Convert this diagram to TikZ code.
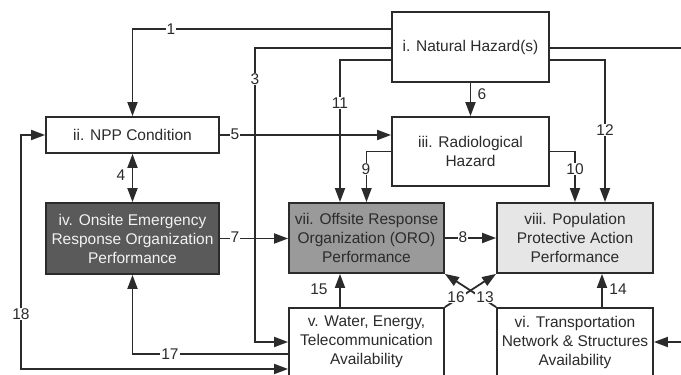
\documentclass[tikz,border=0pt]{standalone}
\usepackage{fontspec}
\setmainfont{Liberation Sans}
\usetikzlibrary{arrows.meta}
\definecolor{ink}{HTML}{2B2B2B}
\definecolor{darkfill}{HTML}{5A5A5A}
\definecolor{midfill}{HTML}{9A9A9A}
\definecolor{lightfill}{HTML}{E6E6E6}
\definecolor{paletext}{HTML}{F2F2F2}

\begin{document}
\begin{tikzpicture}[x=1pt,y=-1pt,
  every node/.style={font=\fontsize{15.5}{19}\selectfont, text=ink},
  box/.style={draw=ink, line width=1.8pt, align=center, inner sep=0pt, fill=white},
  tip/.tip={Triangle[length=14pt,width=10pt]},
  link/.style={draw=ink, line width=1.8pt, -tip},
  twoway/.style={draw=ink, line width=1.8pt, tip-tip},
  num/.style={fill=white, inner sep=1pt},
]
\useasboundingbox (0,0) rectangle (681,375);
\clip (0,0) rectangle (681,375);

% factor boxes
\node[box, minimum width=157pt, minimum height=70pt] (nat) at (470.5,47) {i. Natural Hazard(s)};
\node[box, minimum width=173pt, minimum height=36pt] (npp) at (132.5,135) {ii. NPP Condition};
\node[box, minimum width=157pt, minimum height=69pt] (rad) at (470.5,151.5) {iii. Radiological\\Hazard};
\node[box, minimum width=173pt, minimum height=71pt, fill=darkfill, text=paletext] (ons) at (132.5,238.5)
  {iv. Onsite Emergency\\Response Organization\\Performance};
\node[box, minimum width=155pt, minimum height=68pt] (wat) at (366.5,342)
  {v. Water, Energy,\\Telecommunication\\Availability};
\node[box, minimum width=156pt, minimum height=68pt] (trn) at (575,342)
  {vi. Transportation\\Network \& Structures\\Availability};
\node[box, minimum width=155pt, minimum height=70pt, fill=midfill] (oro) at (366.5,238)
  {vii. Offsite Response\\Organization (ORO)\\Performance};
\node[box, minimum width=156pt, minimum height=70pt, fill=lightfill] (pop) at (575,238)
  {viii. Population\\Protective Action\\Performance};

% routing helpers
\coordinate (k3) at (255,0);
\coordinate (k18) at (21,0);
\coordinate (far) at (720,0);
\coordinate (w17) at ([yshift=-12pt]wat.west);
\coordinate (w18) at ([yshift=-27pt]wat.west);

% connectors
\draw[link] ([yshift=18pt]nat.west) -| (npp.north);
\draw[link] ([yshift=-1pt]nat.west) -| (k3 |- wat.west) -- (wat.west);
\draw[link] ([yshift=-13pt]nat.west) -| ([xshift=-26.5pt]oro.north);
\draw[link] ([yshift=-1pt]nat.east) -| (far |- trn.east) -- (trn.east);
\draw[link] ([yshift=-13pt]nat.east) -| ([xshift=30pt]pop.north);
\draw[link] (nat.south) -- (rad.north);
\draw[link] (npp.east) -- (npp.east -| rad.west);
\draw[twoway] (npp.south) -- (ons.north);
\draw[link] (rad.west) -| (oro.north);
\draw[link] (rad.east) -| (pop.north);
\draw[link] (ons.east) -- (ons.east -| oro.west);
\draw[link] (oro.east) -- (pop.west);
\draw[link] ([xshift=-26.5pt]wat.north) -- ([xshift=-26.5pt]oro.south);
\draw[link] ([xshift=27pt]trn.north) -- ([xshift=27pt]pop.south);
\draw[link] (wat.north east) -- (pop.south west);
\draw[link] (trn.north west) -- (oro.south east);
\draw[link] (w17) -| (ons.south);
\draw[twoway] (npp.west) -- (npp.west -| k18) -- (k18 |- w18) -- (w18);

% connector numbers
\node[num] (l1) at (171,29) {1};
\node[num] (l3) at (255,79) {3};
\node[num] (l4) at (121,175) {4};
\node[num] (l5) at (235,134) {5};
\node[num, fill=none] (l6) at (482,94) {6};
\node[num] (l7) at (235,237) {7};
\node[num] (l8) at (463,237) {8};
\node[num] (l9) at (366,169) {9};
\node[num] (l10) at (575,169) {10};
\node[num] (l11) at (340,103) {11};
\node[num] (l12) at (605,130) {12};
\node[num] (l13) at (485,297) {13};
\node[num, fill=none] (l14) at (618,289) {14};
\node[num, fill=none] (l15) at (319,289) {15};
\node[num] (l16) at (456,297) {16};
\node[num] (l17) at (170,354) {17};
\node[num] (l18) at (21,314) {18};
\end{tikzpicture}
\end{document}
